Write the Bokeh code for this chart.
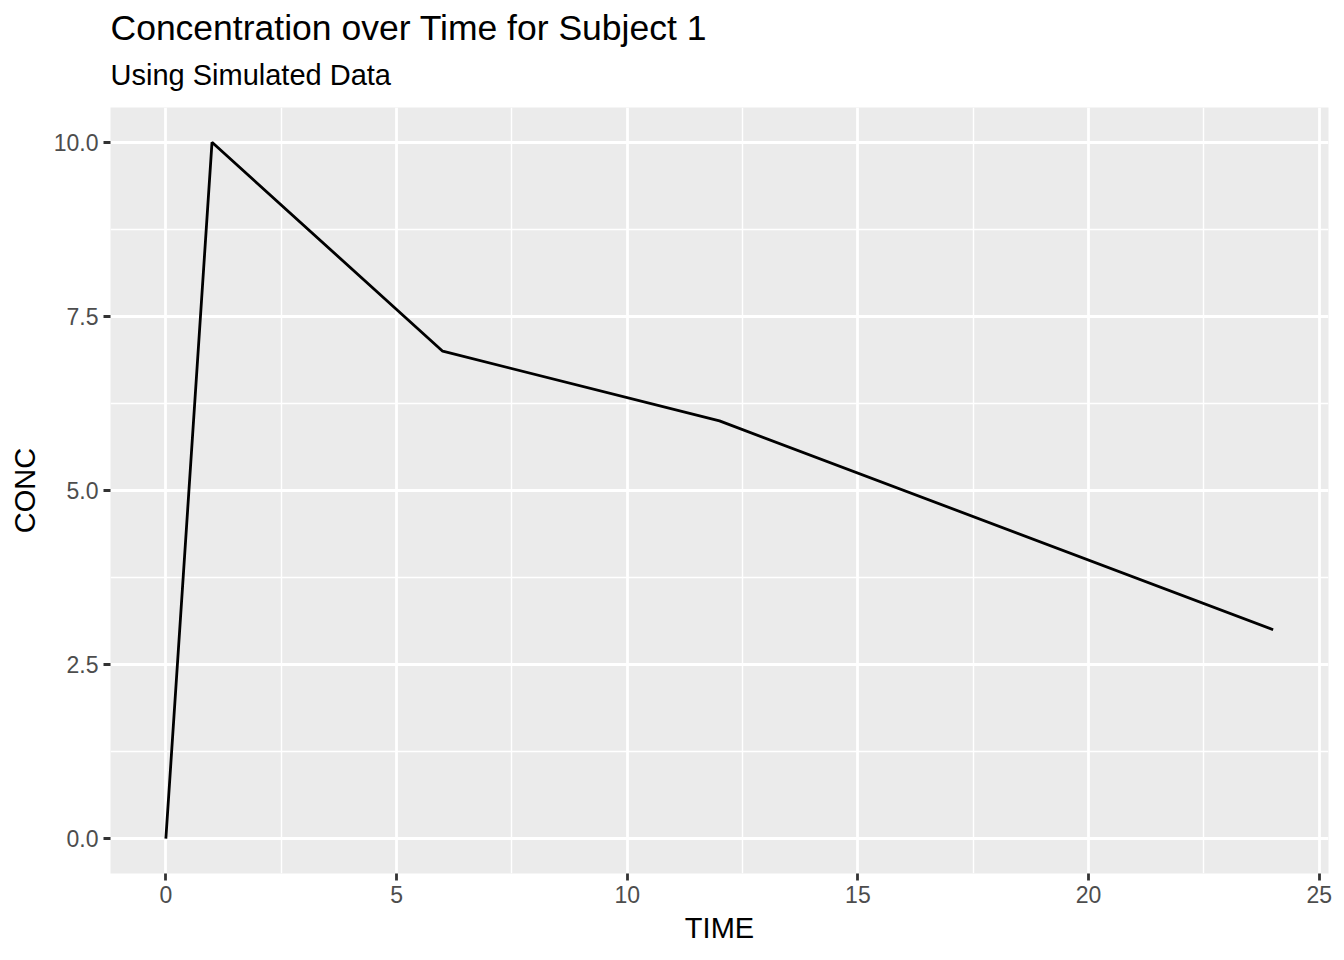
from bokeh.plotting import figure
from bokeh.models import FixedTicker, Range1d, Title, PrintfTickFormatter
from bokeh.embed import file_html
from bokeh.resources import INLINE

# data
time = [0, 1, 6, 12, 24]
conc = [0, 10, 7, 6, 3]

x_ticks = [0, 5, 10, 15, 20, 25]
x_minor = [2.5, 7.5, 12.5, 17.5, 22.5]
y_ticks = [0, 2.5, 5, 7.5, 10]
y_minor = [1.25, 3.75, 6.25, 8.75]

title_text = "Concentration over Time for Subject 1"
subtitle_text = "Using Simulated Data"
x_label = "TIME"
y_label = "CONC"

FONT = "Liberation Sans"

p = figure(
    title=None,
    frame_width=1218, frame_height=766,
    x_range=Range1d(-1.2, 25.2), y_range=Range1d(-0.5, 10.5),
    output_backend="svg", toolbar_location=None,
    min_border_left=110, min_border_right=8, min_border_top=107, min_border_bottom=70,
    background_fill_color="#EBEBEB", border_fill_color="white",
    outline_line_color=None,
)

sub = Title(text=subtitle_text, text_font=FONT, text_font_size="29px",
            text_font_style="normal", text_color="black", align="left", offset=0,
            standoff=34)
p.add_layout(sub, "above")
main = Title(text=title_text, text_font=FONT, text_font_size="35.5px",
             text_font_style="normal", text_color="black", align="left", offset=0,
             standoff=-16)
p.add_layout(main, "above")

p.xaxis.ticker = FixedTicker(ticks=x_ticks, minor_ticks=x_minor)
p.yaxis.ticker = FixedTicker(ticks=y_ticks, minor_ticks=y_minor)
p.yaxis.formatter = PrintfTickFormatter(format="%.1f")
p.xaxis.axis_label = x_label
p.yaxis.axis_label = y_label

for ax in (p.xaxis, p.yaxis):
    ax.axis_line_color = None
    ax.major_tick_line_color = "#333333"
    ax.major_tick_line_width = 2.8
    ax.major_tick_out = 7
    ax.major_tick_in = 0
    ax.minor_tick_line_color = None
    ax.major_label_text_font = FONT
    ax.major_label_text_font_size = "23px"
    ax.major_label_text_color = "#4D4D4D"
    ax.axis_label_text_font = FONT
    ax.axis_label_text_font_size = "29px"
    ax.axis_label_text_font_style = "normal"
    ax.axis_label_text_color = "black"
    ax.major_label_standoff = 5
    ax.axis_label_standoff = 6
p.yaxis.axis_label_standoff = 10

for g in (p.xgrid, p.ygrid):
    g.grid_line_color = "white"
    g.grid_line_width = 2.8
    g.minor_grid_line_color = "white"
    g.minor_grid_line_width = 1.4

p.line(time, conc, line_color="black", line_width=2.8)

open("out.html", "w").write(file_html(p, INLINE))
